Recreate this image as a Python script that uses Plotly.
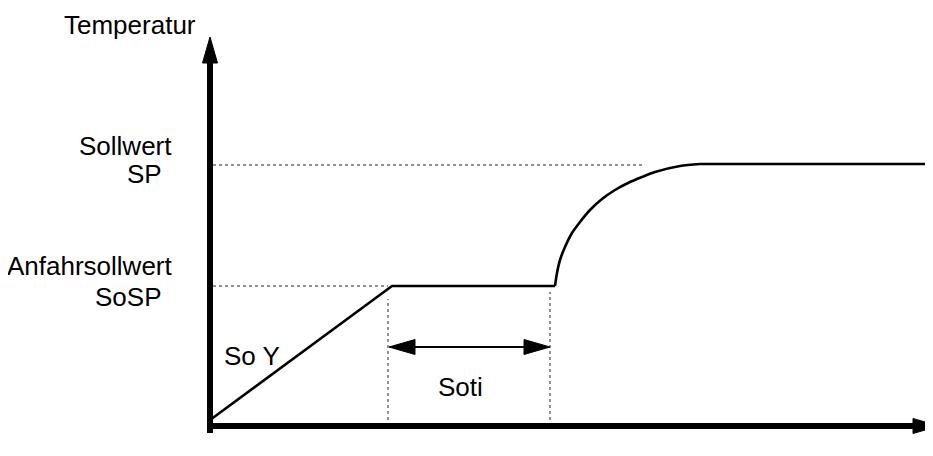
import plotly.graph_objects as go

# ---- data (schematic units: time / temperature) ----
ramp_t = [0, 182, 345]            # start, end of ramp, end of soak (Soti)
ramp_temp = [6, 140, 140]
rise_t = [345, 347, 350, 355, 362, 370, 380, 392, 405, 418, 432, 445, 470, 490]
rise_temp = [140, 153, 166, 179, 193, 204, 216, 227, 236, 243, 249, 254, 260, 262]
hold_t = [490, 723]
hold_temp = [262, 262]

sp_level = 261        # Sollwert SP
sosp_level = 140      # Anfahrsollwert SoSP
sp_guide_end = 433
soak_start = 178
soak_end = 340

axis_y_top = 389
axis_x_end = 729

label_lines = ["Sollwert", "SP", "Anfahrsollwert", "SoSP"]
axis_title = "Temperatur"
ramp_label = "So Y"
soak_label = "Soti"

FONT = dict(family="Liberation Sans, Arial, sans-serif", size=26, color="black")

fig = go.Figure()

# dotted guides
dot = dict(color="#222", width=1, dash="dot")
fig.add_trace(go.Scatter(x=[3, sp_guide_end], y=[sp_level, sp_level], mode="lines", line=dot))
fig.add_trace(go.Scatter(x=[3, soak_start], y=[sosp_level, sosp_level], mode="lines", line=dot))
fig.add_trace(go.Scatter(x=[soak_start, soak_start], y=[6, sosp_level - 13], mode="lines", line=dot))
fig.add_trace(go.Scatter(x=[soak_end, soak_end], y=[6, sosp_level - 6], mode="lines", line=dot))

# temperature curve
curve = dict(color="black", width=2.6)
fig.add_trace(go.Scatter(x=ramp_t, y=ramp_temp, mode="lines", line=curve))
fig.add_trace(go.Scatter(x=rise_t, y=rise_temp, mode="lines",
                         line=dict(color="black", width=2.6, shape="spline", smoothing=0.8)))
fig.add_trace(go.Scatter(x=hold_t, y=hold_temp, mode="lines", line=curve))

# Soti double arrow
arr_y = 79
fig.add_trace(go.Scatter(x=[soak_start + 20, soak_end - 20], y=[arr_y, arr_y], mode="lines",
                         line=dict(color="black", width=2)))
ah_len, ah_half = 26, 7.5
fig.add_trace(go.Scatter(x=[soak_start + 1, soak_start + 1 + ah_len, soak_start + 1 + ah_len, soak_start + 1],
                         y=[arr_y, arr_y + ah_half, arr_y - ah_half, arr_y],
                         mode="lines", fill="toself", fillcolor="black", line=dict(color="black", width=1)))
fig.add_trace(go.Scatter(x=[soak_end, soak_end - ah_len, soak_end - ah_len, soak_end],
                         y=[arr_y, arr_y + ah_half, arr_y - ah_half, arr_y],
                         mode="lines", fill="toself", fillcolor="black", line=dict(color="black", width=1)))

# axes (thick arrows)
fig.add_shape(type="line", x0=0, x1=0, y0=-7, y1=axis_y_top - 24, line=dict(color="black", width=6))
fig.add_shape(type="line", x0=-3, x1=axis_x_end - 24, y0=0, y1=0, line=dict(color="black", width=6))
fig.add_trace(go.Scatter(x=[0, -7.5, 7.5, 0], y=[axis_y_top, axis_y_top - 26, axis_y_top - 26, axis_y_top],
                         mode="lines", fill="toself", fillcolor="black", line=dict(color="black", width=1)))
fig.add_trace(go.Scatter(x=[axis_x_end, axis_x_end - 26, axis_x_end - 26, axis_x_end], y=[0, 7.5, -7.5, 0],
                         mode="lines", fill="toself", fillcolor="black", line=dict(color="black", width=1)))

# labels
def ann(text, x, y, xanchor, pad=1):
    fig.add_annotation(text=text, x=x, y=y, xref="x", yref="y", showarrow=False,
                       xanchor=xanchor, yanchor="middle", font=FONT, borderpad=pad)

ann(axis_title, -80, 401, "center", pad=0)
ann(label_lines[0], -36, 280, "right")
ann(label_lines[1], -46, 252, "right")
ann(label_lines[2], -35, 160, "right")
ann(label_lines[3], -46, 129, "right")
ann(ramp_label, 12, 70, "left")
ann(soak_label, 250.5, 39, "center")

# page has an 8px body margin: shift ranges so marks land where they belong
fig.update_layout(
    width=933, height=456,
    margin=dict(l=0, r=0, t=0, b=0),
    paper_bgcolor="white", plot_bgcolor="white",
    showlegend=False,
    xaxis=dict(range=[-202, 731], visible=False, fixedrange=True),
    yaxis=dict(range=[-38, 418], visible=False, fixedrange=True),
)

fig.write_html("out.html")
